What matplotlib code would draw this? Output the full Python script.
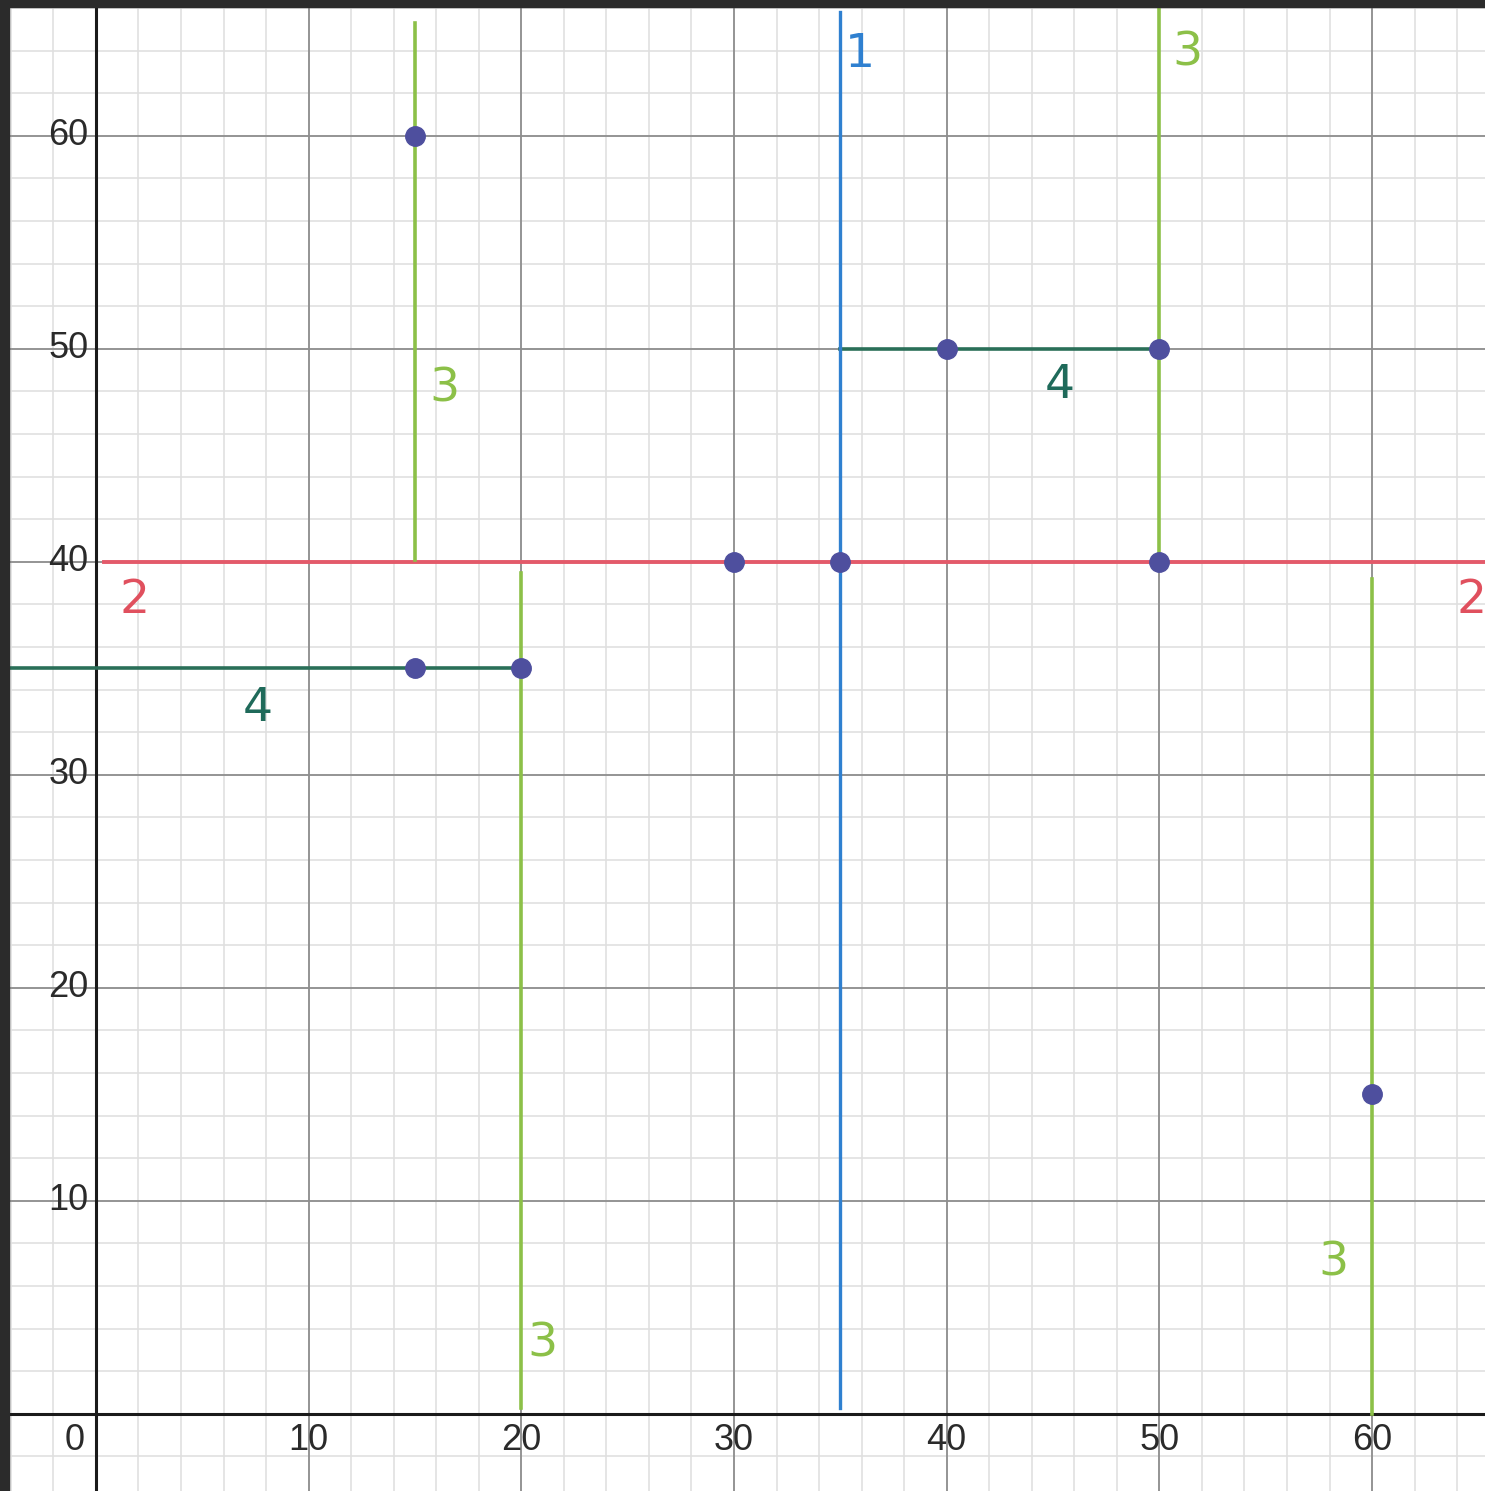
import matplotlib
matplotlib.use('Agg')
import matplotlib.pyplot as plt
from matplotlib.patches import Rectangle
import numpy as np

# 数据: 点
pts_x = [15, 40, 50, 30, 35, 50, 15, 20, 60]
pts_y = [60, 50, 50, 40, 40, 40, 35, 35, 15]

# 竖线 (x, y起, y止)
blue_x, blue_y = [35, 35], [0.3, 65.8]
green_x = [15, 20, 50, 60]
green_y0 = [40.1, 0.3, 40.0, 0.0]
green_y1 = [65.3, 39.5, 66.4, 39.2]
# 横线 (y, x起, x止)
red_y, red_x = [40, 40], [0.4, 65.4]
teal_y = [35, 50]
teal_x0 = [-4.6, 35]
teal_x1 = [20, 50]

# 手写标注
note_text = ['1', '2', '2', '3', '3', '3', '3', '4', '4']
note_x = [35.9, 1.8, 64.7, 16.4, 51.3, 21.0, 58.2, 7.6, 45.3]
note_y = [63.8, 38.2, 38.2, 48.1, 63.9, 3.3, 7.1, 33.1, 48.3]
note_col = ['#2f80d0', '#e0505e', '#e0505e', '#8cc048', '#8cc048', '#8cc048',
            '#8cc048', '#1f6a5a', '#1f6a5a']

x_ticks = [10, 20, 30, 40, 50, 60]
y_ticks = [10, 20, 30, 40, 50, 60]

fig = plt.figure(figsize=(14.85, 14.91), dpi=100)
ax = fig.add_axes([0, 0, 1, 1])
ax.set_xlim(-4.51, 65.31)
ax.set_ylim(-3.62, 66.38)

# 网格
for v in np.arange(-4, 66, 2):
    ax.axvline(v, color='#e0e0e0', lw=1.2, zorder=0)
for v in np.arange(-2, 67, 2):
    ax.axhline(v, color='#e0e0e0', lw=1.2, zorder=0)
for v in np.arange(10, 66, 10):
    ax.axvline(v, color='#8e8e8e', lw=1.3, zorder=0.5)
    ax.axhline(v, color='#8e8e8e', lw=1.3, zorder=0.5)
ax.axhline(0, color='#1a1a1a', lw=2.2, zorder=1)
ax.axvline(0, color='#1a1a1a', lw=2.2, zorder=1)

# 刻度文字
tick_font = {'family': 'Liberation Sans', 'size': 26, 'color': '#2a2a2a'}
for t in x_ticks:
    ax.text(t, -1.27, str(t), ha='center', va='center', fontdict=tick_font)
for t in y_ticks:
    ax.text(-0.35, t, str(t), ha='right', va='center', fontdict=tick_font)
ax.text(-1.0, -1.27, '0', ha='center', va='center', fontdict=tick_font)

# 线
ax.plot(red_x, red_y, color='#e35a6a', lw=2.8, zorder=2)
ax.plot(blue_x, blue_y, color='#2f80d0', lw=2.4, zorder=3)
for gx, a, b in zip(green_x, green_y0, green_y1):
    ax.plot([gx, gx], [a, b], color='#8cc048', lw=2.6, zorder=2.5)
for ty, a, b in zip(teal_y, teal_x0, teal_x1):
    ax.plot([a, b], [ty, ty], color='#2a6f58', lw=2.6, zorder=2.5)

# 点
ax.plot(pts_x, pts_y, 'o', color='#4e4f9e', markersize=14, zorder=4)

# 手写数字
for s, nx, ny, c in zip(note_text, note_x, note_y, note_col):
    ax.text(nx, ny, s, color=c, fontsize=34, ha='center', va='center',
            family='DejaVu Sans', fontweight='normal', zorder=5)

ax.axis('off')

# 截图边框
fig.patches.append(Rectangle((0, 0), 0.006, 1, transform=fig.transFigure,
                             color='#2b2b2b', zorder=10))
fig.patches.append(Rectangle((0, 0.995), 1, 0.005, transform=fig.transFigure,
                             color='#2b2b2b', zorder=10))

plt.savefig('out.png', dpi=100)
